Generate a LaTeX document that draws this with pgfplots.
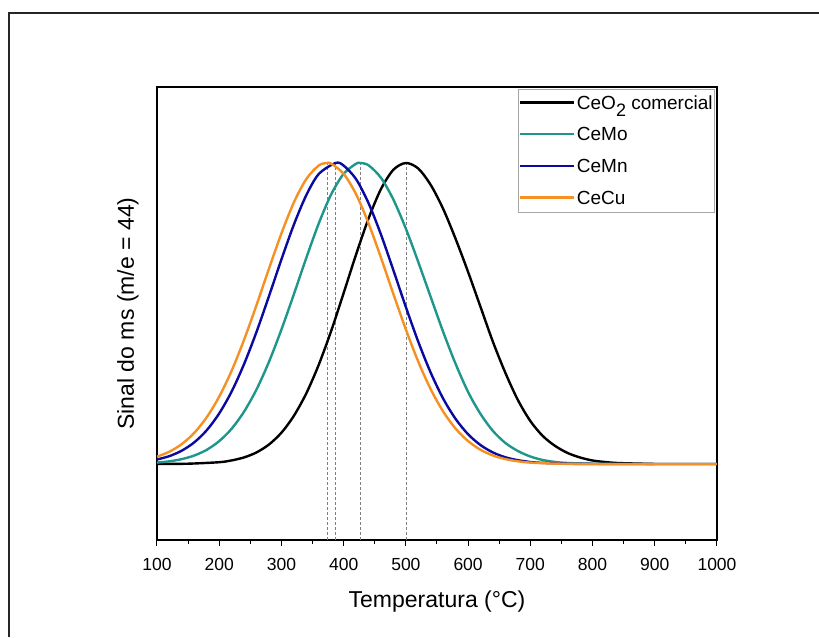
\documentclass[border=0pt]{standalone}
\usepackage{fontspec}
\setmainfont{Liberation Sans}
\usepackage{pgfplots}
\pgfplotsset{compat=1.18}
\definecolor{cteal}{RGB}{30,150,140}
\definecolor{cblue}{RGB}{10,10,160}
\definecolor{corange}{RGB}{245,145,35}
\begin{document}
\begin{tikzpicture}
\begin{axis}[
  at={(0pt,0pt)}, anchor=south west,
  width=560pt, height=453pt, scale only axis,
  xmin=100, xmax=1000, ymin=0, ymax=453,
  xtick={100,200,...,1000},
  minor x tick num=1,
  ytick=\empty,
  xtick pos=bottom,
  tick align=outside,
  major tick length=6pt, minor tick length=4pt,
  axis line style={line width=1.2pt},
  every tick/.style={black, line width=1pt},
  /pgf/number format/assume math mode=true,
  /pgf/number format/set thousands separator={},
  xticklabel style={font=\fontsize{17.5}{20}\selectfont, yshift=-9pt},
  xlabel={Temperatura (°C)},
  ylabel={Sinal do ms (m/e = 44)},
  xlabel style={font=\fontsize{23}{27}\selectfont, at={(axis description cs:0.5,0)}, anchor=center, yshift=-62pt},
  ylabel style={font=\fontsize{23}{27}\selectfont, at={(axis description cs:0,0.5)}, anchor=center, yshift=29pt},
  legend style={at={(axis description cs:1,1)}, anchor=north east, xshift=-2pt, yshift=-2pt,
    draw=gray!70, line width=0.8pt, font=\fontsize{19}{22}\selectfont,
    inner xsep=0pt, inner ysep=4pt, row sep=13pt, cells={anchor=base west}},
  legend image code/.code={\draw[#1] (0pt,6.8pt) -- (54pt,6.8pt);},
  every axis plot/.append style={line width=2.4pt},
]
% dashed peak markers
\addplot[forget plot, gray, line width=0.6pt, dash pattern=on 3pt off 2pt] coordinates {(373,0)(373,377)};
\addplot[forget plot, gray, line width=0.6pt, dash pattern=on 3pt off 2pt] coordinates {(387,0)(387,377)};
\addplot[forget plot, gray, line width=0.6pt, dash pattern=on 3pt off 2pt] coordinates {(427,0)(427,377)};
\addplot[forget plot, gray, line width=0.6pt, dash pattern=on 3pt off 2pt] coordinates {(500,0)(500,377)};
% CeO2 comercial
\addplot[black, smooth] coordinates {(100,76)(150,76.3)(200,77.8)(220,79.6)(240,82.6)(260,87.6)(280,95.5)(300,107.3)(320,124.2)(340,146.7)(360,175.3)(380,209.2)(400,247)(420,285.6)(440,321.5)(460,351)(480,370.3)(500,377)(520,371.4)(540,355)(560,331)(580,301)(600,268)(620,233)(640,198)(660,167)(680,140)(700,119)(720,104)(740,94)(760,87)(780,82.5)(800,79.5)(820,78)(840,77)(880,76.3)(900,76)};
\addlegendentry{CeO\raisebox{-7pt}{\fontsize{18}{18}\selectfont 2} comercial}
% CeMo
\addplot[cteal, smooth] coordinates {(100,77.4)(120,78.7)(140,80.9)(160,84.5)(180,90.2)(200,98.9)(220,111.3)(240,128.4)(260,150.6)(280,178.2)(300,210.5)(320,245.8)(340,282.2)(360,316.6)(380,345.7)(400,366.2)(420,376.3)(427,377)(440,374.7)(460,362.2)(480,340.3)(500,311.3)(520,277.8)(540,242.8)(560,208)(580,176)(600,148)(620,126)(640,109)(660,97)(680,89)(700,83.5)(720,80)(740,78)(760,77)(800,76.3)(850,76)(1000,76)};
\addlegendentry{CeMo}
% CeMn
\addplot[cblue, smooth] coordinates {(100,80.5)(120,83.9)(140,89.4)(160,97.7)(180,109.8)(200,126.6)(220,148.5)(240,176)(260,208.2)(280,243.9)(300,280.6)(320,315.4)(340,344.9)(360,366)(387,377)(400,374.4)(420,360.8)(440,336.8)(460,305.4)(480,269.6)(500,232.9)(520,198.1)(540,167.2)(560,141.3)(580,121)(600,105.7)(620,94.9)(640,87.5)(660,82.7)(680,79.8)(700,78)(720,77.1)(760,76.3)(820,76)(1000,76)};
\addlegendentry{CeMn}
% CeCu
\addplot[corange, smooth] coordinates {(100,83.3)(120,88.3)(140,96)(160,107.2)(180,122.8)(200,143.4)(220,169.3)(240,200.3)(260,235)(280,271.4)(300,306.6)(320,337.6)(340,361)(360,374.5)(373,377)(380,376.3)(400,366.2)(420,345.7)(440,316.6)(460,282.2)(480,245.8)(500,210.5)(520,178.2)(540,150.6)(560,128.4)(580,111.3)(600,98.9)(620,90.2)(640,84.5)(660,80.9)(680,78.7)(700,77.4)(740,76.4)(800,76)(1000,76)};
\addlegendentry{CeCu}
\end{axis}
% outer frame (left and top edges visible)
\draw[line width=1.6pt, black!85] (-148pt,-97pt) -- (-148pt,527pt) -- (662pt,527pt);
\pgfresetboundingbox
\useasboundingbox (-157pt,-97pt) rectangle (662pt,540pt);
\end{tikzpicture}
\end{document}
